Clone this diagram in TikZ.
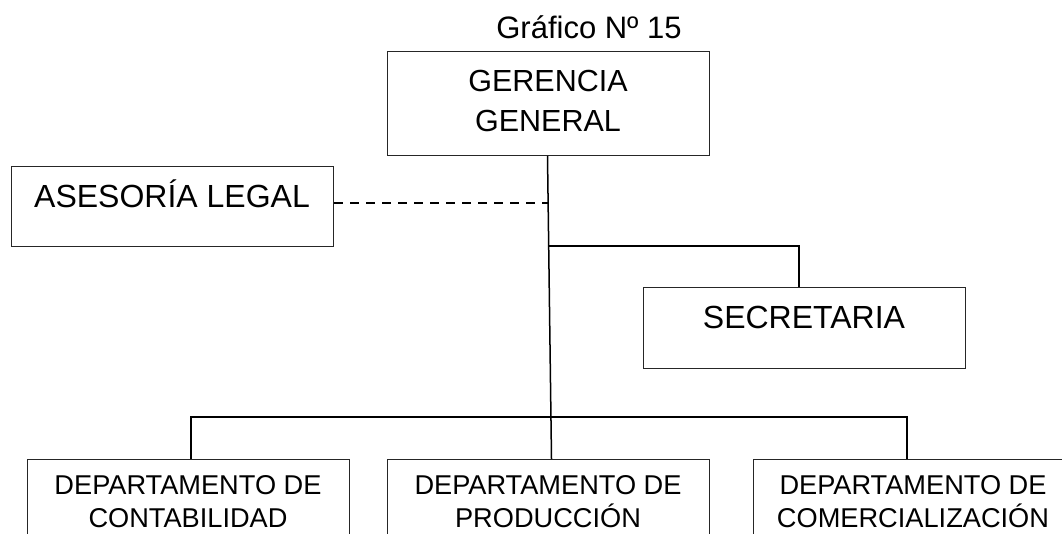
\documentclass[tikz,border=0pt]{standalone}
\usepackage{fontspec}
\setmainfont{Liberation Sans}
\begin{document}
\begin{tikzpicture}[x=1pt,y=-1pt,
  box/.style={draw=black!85, line width=1pt, rectangle, inner sep=0pt, anchor=north west},
  conn/.style={line width=1.5pt, black},
  dashconn/.style={line width=1.3pt, black, dash pattern=on 9pt off 7pt},
  big/.style={anchor=base, inner sep=0pt, font=\fontsize{32}{38}\selectfont},
  mid/.style={anchor=base, inner sep=0pt, font=\fontsize{30.5}{39}\selectfont},
  small/.style={anchor=base, inner sep=0pt, font=\fontsize{27.2}{33}\selectfont}]
\useasboundingbox (0,0) rectangle (1062,534);
\clip (0,0) rectangle (1062,534);
% boxes
\node[box, minimum width=322pt, minimum height=104pt] (ger) at (387,51) {};
\node[box, minimum width=322pt, minimum height=80pt] (ases) at (11,166) {};
\node[box, minimum width=322pt, minimum height=81pt] (secr) at (643,287) {};
\node[box, minimum width=322pt, minimum height=110pt] (cont) at (27,459) {};
\node[box, minimum width=322pt, minimum height=110pt] (prod) at (387,459) {};
\node[box, minimum width=322pt, minimum height=110pt] (comer) at (753,459) {};
% texts
\node[mid, font=\fontsize{31}{38}\selectfont] (title) at (589,39) {Gráfico Nº 15};
\node[mid] (g1) at (548,92) {GERENCIA};
\node[mid] (g2) at (548,132) {GENERAL};
\node[big] (ta) at (172,208) {ASESORÍA LEGAL};
\node[big] (ts) at (804,328) {SECRETARIA};
\node[small] (c1) at (188,494) {DEPARTAMENTO DE};
\node[small] (c2) at (188,527) {CONTABILIDAD};
\node[small] (p1) at (548,494) {DEPARTAMENTO DE};
\node[small] (p2) at (548,527) {PRODUCCIÓN};
\node[small] (m1) at (913,494) {DEPARTAMENTO DE};
\node[small] (m2) at (913,527) {COMERCIALIZACIÓN};
% junctions
\coordinate (jL) at (548,203);
\coordinate (jS) at (549,246);
\coordinate (jB) at (551,417);
\coordinate (b1) at (191,417);
\coordinate (b3) at (907,417);
\coordinate (s1) at (799,246);
% connectors
\draw[conn] ([xshift=-1pt]ger.south) -- ([xshift=3pt]prod.north);
\draw[dashconn] (ases.east |- jL) -- (jL);
\draw[conn] (jS) -- (s1) -- (s1 |- secr.north);
\draw[conn] (b1 |- cont.north) -- (b1) -- (b3) -- (b3 |- comer.north);
\end{tikzpicture}
\end{document}
